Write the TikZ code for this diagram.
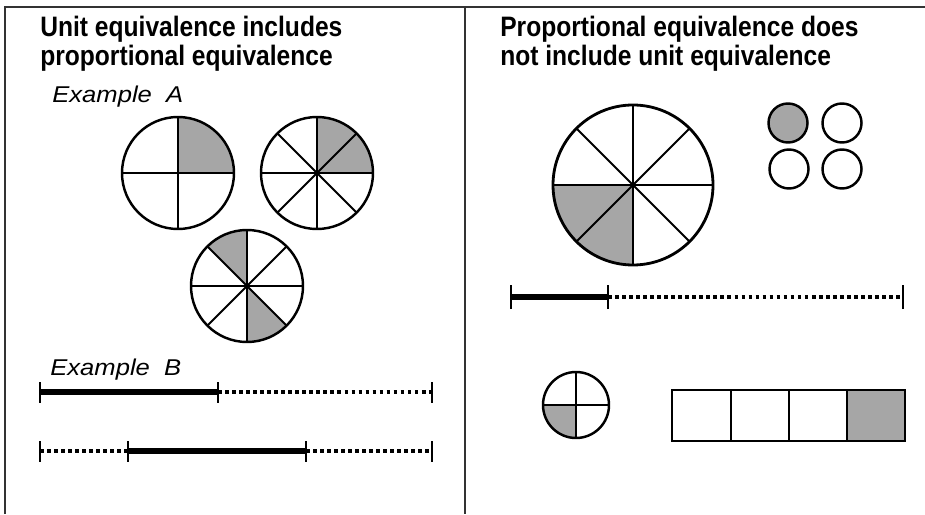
\documentclass[tikz,border=0pt]{standalone}
\usepackage{fontspec}
\setmainfont{Liberation Sans}
\usetikzlibrary{calc}

\definecolor{sectorgray}{gray}{0.65}

\begin{document}
\begin{tikzpicture}[x=0.02cm, y=0.02cm,
    frameline/.style={line width=1.2pt, black!80},
    title/.style={anchor=base west, inner sep=0pt, font=\bfseries\fontsize{16}{19}\selectfont, xscale=0.875},
    caption/.style={anchor=base west, inner sep=0pt, font=\itshape\fontsize{13}{15}\selectfont, xscale=1.12},
    rim/.style={draw, line width=1.4pt},
    spoke/.style={line width=1.1pt},
    shaded/.style={fill=sectorgray},
    solidbar/.style={line width=3pt},
    dotbar/.style={line width=2.1pt, dash pattern=on 2.1pt off 1.9pt},
    tick/.style={line width=1.5pt}]
        % Keep the page size of the reference
        \useasboundingbox (0,0) rectangle (925,514);

        % Frame and divider
        \coordinate (TL) at (5,507);
        \coordinate (TR) at (925,507);
        \coordinate (BL) at (5,0);
        \coordinate (TM) at (465,507);
        \coordinate (BM) at (465,0);
        \draw[frameline] (BL) -- (TL) -- (TR);
        \draw[frameline] (TM) -- (BM);

        % Titles
        \node[title] (t1) at (40,477) {Unit equivalence includes};
        \node[title] (t2) at (40,448) {proportional equivalence};
        \node[title] (t3) at (500,477) {Proportional equivalence does};
        \node[title] (t4) at (500,448) {not include unit equivalence};
        \node[caption] (exA) at (52,411) {Example\ \ A};
        \node[caption] (exB) at (50,139) {Example\ \ B};

        % Example A: quarter circle
        \coordinate (A1) at (178,341);
        \fill[shaded] (A1) -- ++(0:56) arc (0:90:56) -- cycle;
        \foreach \a in {0,90,180,270}
          \draw[spoke] (A1) -- ++(\a:56);
        \draw[rim] (A1) circle (56);

        % Example A: eighths, two shaded
        \coordinate (A2) at (317,341);
        \fill[shaded] (A2) -- ++(0:56) arc (0:90:56) -- cycle;
        \foreach \a in {0,45,...,315}
          \draw[spoke] (A2) -- ++(\a:56);
        \draw[rim] (A2) circle (56);

        % Example A: eighths, two shaded apart
        \coordinate (A3) at (247,228);
        \fill[shaded] (A3) -- ++(90:56) arc (90:135:56) -- cycle;
        \fill[shaded] (A3) -- ++(270:56) arc (270:315:56) -- cycle;
        \foreach \a in {0,45,...,315}
          \draw[spoke] (A3) -- ++(\a:56);
        \draw[rim] (A3) circle (56);

        % Example B: two number lines
        \coordinate (p1) at (40,122);
        \coordinate (p2) at (218,122);
        \coordinate (p3) at (432,122);
        \draw[solidbar] (p1) -- (p2);
        \draw[dotbar] (p2) -- (p3);
        \coordinate (q1) at (40,63);
        \coordinate (q2) at (128,63);
        \coordinate (q3) at (306,63);
        \coordinate (q4) at (432,63);
        \draw[dotbar] (q1) -- (q2);
        \draw[solidbar] (q2) -- (q3);
        \draw[dotbar] (q3) -- (q4);
        \foreach \p in {p1,p2,p3,q1,q2,q3,q4}
          \draw[tick] ($(\p)+(0,-10.5)$) -- ($(\p)+(0,10.5)$);

        % Right: large circle in eighths
        \coordinate (B) at (633,329);
        \fill[shaded] (B) -- ++(180:80) arc (180:270:80) -- cycle;
        \foreach \a in {0,45,...,315}
          \draw[spoke] (B) -- ++(\a:80);
        \draw[rim, line width=1.6pt] (B) circle (80);

        % Right: four small circles
        \draw[rim, shaded] (788,391) circle (19.5);
        \draw[rim] (842,391) circle (19.5);
        \draw[rim] (789,345) circle (19.5);
        \draw[rim] (842,345) circle (19.5);

        % Right: number line
        \coordinate (r1) at (511,217);
        \coordinate (r2) at (608,217);
        \coordinate (r3) at (903,217);
        \draw[solidbar] (r1) -- (r2);
        \draw[dotbar] (r2) -- (r3);
        \foreach \p in {r1,r2,r3}
          \draw[tick] ($(\p)+(0,-12)$) -- ($(\p)+(0,12)$);

        % Right: small quartered circle
        \coordinate (S) at (576,109);
        \fill[shaded] (S) -- ++(180:33) arc (180:270:33) -- cycle;
        \foreach \a in {0,90,180,270}
          \draw[spoke] (S) -- ++(\a:33);
        \draw[rim] (S) circle (33);

        % Right: strip of four squares
        \fill[shaded] (847,73) rectangle (905,124);
        \foreach \x in {731,789,847}
          \draw[spoke] (\x,73) -- (\x,124);
        \draw[rim] (672,73) rectangle (905,124);
      \end{tikzpicture}
\end{document}
